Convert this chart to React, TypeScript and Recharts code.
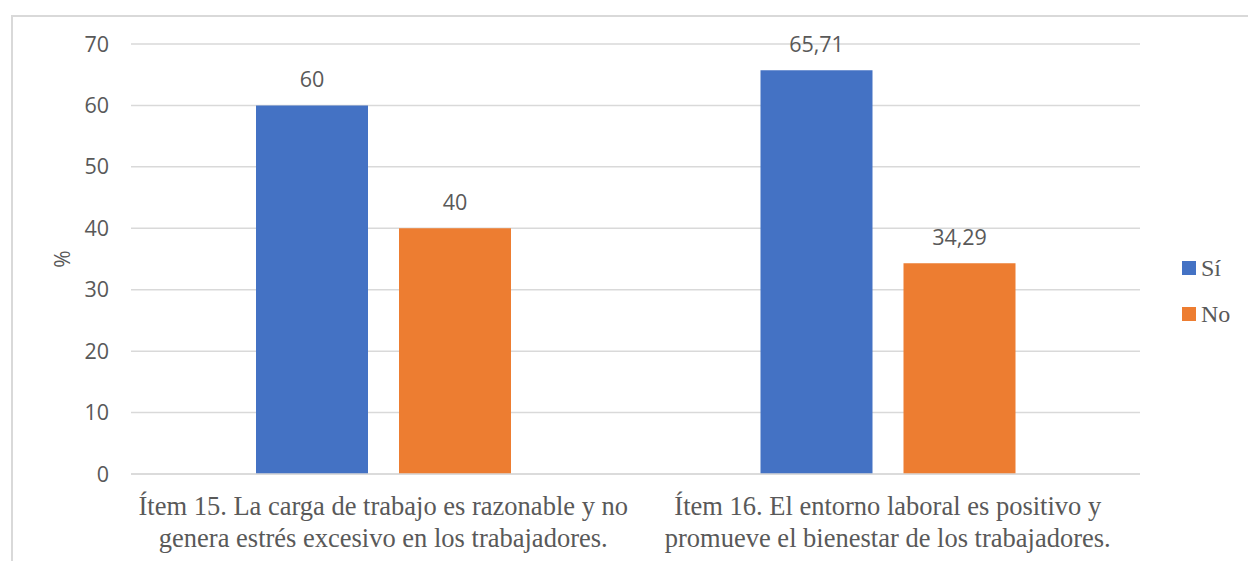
import React from 'react';
import { BarChart, Bar, XAxis, YAxis, CartesianGrid, LabelList, Label } from 'recharts';

const categoryLines = [
    ['Ítem 15. La carga de trabajo es razonable y no', 'genera estrés excesivo en los trabajadores.'],
    ['Ítem 16. El entorno laboral es positivo y', 'promueve el bienestar de los trabajadores.'],
];
const siValues = [60, 65.71];
const noValues = [40, 34.29];
const yTicks = [0, 10, 20, 30, 40, 50, 60, 70];
const seriesNames = ['Sí', 'No'];

const BLUE = '#4472C4';
const ORANGE = '#ED7D31';
const TEXT = '#595959';
const SANS = "'Open Sans', 'Noto Sans', sans-serif";
const SERIF = "'Times New Roman', 'Liberation Serif', serif";

const data = categoryLines.map((lines, i) => ({
    name: lines.join(' '),
    si: siValues[i],
    no: noValues[i],
}));

const fmt = (v: number) => String(v).replace('.', ',');

const CategoryTick = (props: any) => {
    const { x, y, payload } = props;
    const lines = categoryLines[payload.index] || [payload.value];
    return (
        <text x={x} y={y} textAnchor="middle" fill={TEXT} style={{ fontFamily: SERIF, fontSize: 26.5 }}>
            {lines.map((l, i) => (
                <tspan key={i} x={x} dy={i === 0 ? 33 : 32}>
                    {l}
                </tspan>
            ))}
        </text>
    );
};

const PercentLabel = (props: any) => {
    const { viewBox } = props;
    const cx = viewBox.x - 8;
    const cy = viewBox.y + viewBox.height / 2;
    return (
        <text
            x={cx}
            y={cy}
            transform={`rotate(-90 ${cx} ${cy})`}
            textAnchor="middle"
            dominantBaseline="central"
            fill={TEXT}
            style={{ fontSize: 21, fontFamily: SANS }}
        >
            %
        </text>
    );
};

const labelStyle = { fill: TEXT, fontSize: 21.5, fontFamily: SANS };

export default function App() {
    return (
        <div style={{ position: 'fixed', left: 0, top: 0, width: 1248, height: 561, background: '#fff', overflow: 'hidden' }}>
            <div
                style={{
                    position: 'absolute',
                    left: 11,
                    top: 15,
                    width: 1250,
                    height: 560,
                    borderTop: '2px solid #d9d9d9',
                    borderLeft: '2px solid #d9d9d9',
                }}
            />
            <div style={{ position: 'absolute', left: 0, top: 0 }}>
                <BarChart
                    width={1248}
                    height={561}
                    data={data}
                    margin={{ top: 44, right: 108, left: 70, bottom: 27 }}
                    barGap={31}
                    barCategoryGap="24.7%"
                >
                    <CartesianGrid vertical={false} stroke="#d9d9d9" strokeWidth={1.5} />
                    <XAxis
                        dataKey="name"
                        height={60}
                        tick={<CategoryTick />}
                        tickLine={false}
                        axisLine={{ stroke: '#d9d9d9', strokeWidth: 1.5 }}
                        interval={0}
                    />
                    <YAxis
                        width={61}
                        domain={[0, 70]}
                        ticks={yTicks}
                        tickLine={false}
                        axisLine={false}
                        tickSize={0}
                        tickMargin={22}
                        tick={labelStyle}
                    >
                        <Label content={<PercentLabel />} />
                    </YAxis>
                    <Bar dataKey="si" name={seriesNames[0]} fill={BLUE} barSize={112} isAnimationActive={false}>
                        <LabelList dataKey="si" position="top" offset={18} formatter={(v: any) => fmt(v)} style={labelStyle} />
                    </Bar>
                    <Bar dataKey="no" name={seriesNames[1]} fill={ORANGE} barSize={112} isAnimationActive={false}>
                        <LabelList dataKey="no" position="top" offset={18} formatter={(v: any) => fmt(v)} style={labelStyle} />
                    </Bar>
                </BarChart>
            </div>
            <div style={{ position: 'absolute', left: 1182, top: 245, fontFamily: SERIF, fontSize: 24, color: TEXT }}>
                {seriesNames.map((n, i) => (
                    <div key={n} style={{ display: 'flex', alignItems: 'center', height: 46 }}>
                        <span style={{ width: 14, height: 14, background: i === 0 ? BLUE : ORANGE, marginRight: 5 }} />
                        <span>{n}</span>
                    </div>
                ))}
            </div>
        </div>
    );
}
